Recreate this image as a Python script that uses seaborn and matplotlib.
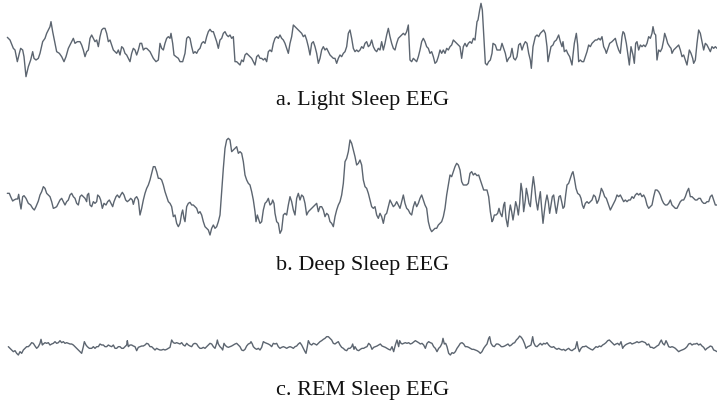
import matplotlib
matplotlib.use("Agg")
import matplotlib.pyplot as plt
import seaborn as sns

# EEG traces (time in samples, amplitude in uV,
# plotted negative-up as in clinical EEG)
light_sleep = [
    (22, 112), (30, 120), (40, 145), (45, 150), (52, 185), (58, 160), (62, 145), (68, 150), (72, 170), (78, 230),
    (85, 200), (92, 180), (98, 155), (102, 175), (108, 180), (115, 175), (120, 160), (128, 125), (135, 115), (140, 100),
    (145, 90), (150, 80), (153, 65), (158, 95), (165, 130), (170, 155), (178, 160), (185, 170), (192, 185), (198, 170),
    (205, 145), (210, 135), (215, 125), (220, 115), (225, 130), (232, 125), (240, 125), (245, 135), (250, 150), (255, 170),
    (260, 155), (265, 150), (270, 115), (275, 105), (280, 115), (285, 125), (290, 120), (295, 140), (300, 110), (305, 90),
    (310, 85), (315, 85), (320, 100), (325, 125), (330, 120), (335, 135), (340, 150), (345, 155), (350, 160), (355, 150),
    (360, 165), (365, 140), (370, 145), (375, 160), (380, 165), (385, 175), (390, 185), (395, 160), (400, 145), (405, 150),
    (410, 165), (415, 150), (420, 130), (425, 130), (430, 150), (435, 145), (440, 145), (445, 150), (450, 155), (455, 165),
    (460, 175), (468, 185), (475, 180), (480, 130), (485, 145), (490, 150), (495, 130), (500, 115), (505, 110), (510, 115),
    (513, 100), (518, 130), (522, 165), (528, 170), (535, 175), (540, 185), (548, 185), (555, 160), (560, 115), (565, 110),
    (570, 115), (575, 140), (580, 160), (585, 155), (590, 160), (595, 150), (600, 145), (605, 130), (610, 125), (615, 130),
    (620, 110), (625, 95), (630, 88), (635, 95), (640, 95), (645, 110), (650, 125), (655, 145), (660, 120), (665, 115),
    (670, 100), (675, 95), (680, 105), (685, 110), (690, 105), (695, 115), (700, 110), (705, 185), (710, 185), (715, 190),
    (720, 195), (725, 180), (730, 185), (735, 165), (740, 160), (745, 165), (750, 170), (755, 175), (760, 185), (765, 195),
    (770, 170), (775, 165), (780, 175), (785, 175), (790, 180), (795, 175), (800, 185), (805, 155), (810, 150), (815, 155),
    (820, 130), (825, 115), (830, 110), (835, 115), (840, 105), (845, 115), (850, 120), (855, 130), (860, 145), (865, 160),
    (870, 130), (875, 110), (880, 75), (885, 80), (890, 85), (895, 90), (900, 95), (905, 100), (910, 110), (915, 105),
    (920, 120), (925, 140), (930, 165), (935, 130), (940, 125), (945, 140), (950, 160), (955, 190), (960, 175), (965, 150),
    (970, 140), (975, 150), (980, 145), (985, 155), (990, 165), (995, 170), (1000, 175), (1005, 175), (1010, 190), (1015, 175),
    (1020, 165), (1025, 170), (1030, 160), (1035, 155), (1040, 140), (1045, 100), (1050, 90), (1055, 115), (1060, 145), (1065, 155),
    (1070, 150), (1075, 155), (1080, 150), (1085, 140), (1090, 145), (1095, 130), (1100, 125), (1105, 140), (1110, 135), (1115, 120),
    (1120, 140), (1125, 150), (1130, 155), (1135, 145), (1140, 150), (1145, 125), (1150, 150), (1155, 130), (1160, 105), (1165, 85),
    (1170, 110), (1175, 130), (1180, 145), (1185, 150), (1190, 130), (1195, 115), (1200, 110), (1205, 105), (1210, 100), (1215, 105),
    (1220, 95), (1225, 75), (1230, 180), (1235, 185), (1240, 175), (1245, 180), (1250, 185), (1255, 170), (1260, 150), (1265, 125),
    (1270, 115), (1275, 125), (1280, 140), (1285, 145), (1290, 160), (1295, 155), (1300, 170), (1305, 190), (1310, 185), (1315, 170),
    (1320, 150), (1325, 160), (1330, 150), (1335, 160), (1340, 145), (1345, 150), (1350, 140), (1355, 135), (1360, 120), (1365, 125),
    (1370, 130), (1375, 135), (1380, 140), (1385, 175), (1390, 140), (1395, 130), (1400, 140), (1405, 130), (1410, 125), (1415, 130),
    (1420, 115), (1425, 120), (1431, 65), (1434, 60), (1439, 30), (1443, 10), (1447, 30), (1451, 100), (1456, 190), (1461, 195),
    (1466, 185), (1471, 180), (1476, 160), (1479, 130), (1486, 135), (1491, 150), (1496, 150), (1501, 150), (1506, 130), (1511, 145),
    (1516, 160), (1521, 185), (1526, 175), (1531, 170), (1536, 145), (1541, 175), (1546, 180), (1551, 170), (1556, 135), (1561, 130),
    (1566, 150), (1571, 135), (1576, 125), (1581, 130), (1586, 160), (1591, 180), (1594, 205), (1599, 140), (1606, 110), (1611, 105),
    (1616, 110), (1621, 100), (1626, 95), (1631, 90), (1636, 100), (1641, 140), (1644, 185), (1649, 160), (1653, 140), (1659, 135),
    (1663, 125), (1669, 120), (1676, 105), (1681, 125), (1686, 140), (1689, 125), (1693, 155), (1699, 150), (1703, 160), (1709, 170),
    (1716, 195), (1719, 165), (1723, 130), (1729, 100), (1733, 135), (1736, 185), (1741, 180), (1746, 185), (1751, 185), (1756, 170),
    (1761, 155), (1766, 135), (1771, 140), (1776, 130), (1781, 125), (1786, 120), (1791, 120), (1796, 115), (1801, 120), (1806, 110),
    (1811, 140), (1816, 150), (1819, 160), (1824, 145), (1829, 130), (1836, 125), (1841, 120), (1846, 115), (1851, 135), (1856, 150),
    (1861, 160), (1866, 110), (1869, 95), (1873, 100), (1879, 130), (1883, 160), (1888, 195), (1893, 140), (1899, 165), (1903, 190),
    (1907, 130), (1911, 125), (1916, 150), (1921, 135), (1926, 140), (1931, 135), (1936, 140), (1941, 130), (1946, 110), (1951, 115),
    (1956, 100), (1959, 80), (1963, 100), (1967, 105), (1971, 180), (1976, 150), (1981, 155), (1986, 145), (1991, 120), (1994, 100),
    (1999, 115), (2003, 130), (2009, 140), (2013, 145), (2016, 160), (2021, 150), (2026, 145), (2031, 140), (2036, 135), (2041, 150),
    (2046, 170), (2051, 165), (2056, 180), (2061, 195), (2064, 175), (2068, 150), (2073, 160), (2078, 175), (2081, 190), (2086, 180),
    (2091, 130), (2096, 90), (2101, 100), (2106, 125), (2111, 150), (2116, 130), (2121, 135), (2126, 145), (2131, 155), (2136, 140),
    (2141, 145), (2146, 140), (2151, 145),
]

deep_sleep = [
    (22, 205), (28, 205), (32, 215), (38, 228), (42, 225), (48, 222), (53, 222), (56, 208), (60, 235), (63, 252),
    (68, 215), (72, 212), (78, 220), (85, 235), (92, 240), (98, 250), (103, 255), (108, 245), (115, 228), (120, 210),
    (125, 200), (130, 185), (135, 190), (140, 205), (145, 210), (150, 215), (155, 230), (160, 250), (165, 248), (170, 245),
    (175, 235), (180, 225), (185, 220), (190, 230), (195, 240), (200, 230), (205, 225), (210, 210), (215, 205), (220, 215),
    (225, 220), (230, 235), (235, 240), (240, 215), (245, 210), (250, 215), (255, 220), (260, 230), (262, 210), (266, 205),
    (270, 240), (275, 245), (280, 230), (285, 235), (290, 230), (293, 210), (298, 215), (302, 225), (307, 250), (312, 235),
    (318, 240), (323, 230), (328, 225), (333, 235), (338, 245), (342, 230), (348, 215), (352, 210), (358, 218), (362, 210),
    (367, 202), (372, 210), (377, 225), (382, 230), (388, 225), (392, 220), (397, 225), (400, 238), (405, 220), (410, 215),
    (415, 225), (420, 270), (425, 250), (430, 225), (435, 205), (440, 190), (445, 180), (450, 165), (455, 145), (460, 125),
    (465, 125), (470, 140), (475, 160), (480, 160), (485, 165), (490, 180), (495, 200), (500, 215), (505, 230), (510, 235),
    (515, 245), (520, 275), (525, 270), (530, 295), (535, 305), (540, 295), (545, 265), (548, 255), (552, 280), (555, 290),
    (560, 245), (565, 235), (570, 232), (575, 240), (580, 240), (585, 245), (590, 250), (595, 265), (600, 260), (605, 270),
    (610, 290), (615, 305), (620, 310), (625, 315), (630, 330), (635, 310), (640, 300), (645, 310), (650, 305), (655, 290),
    (660, 270), (665, 200), (670, 130), (675, 70), (680, 45), (685, 40), (690, 45), (695, 80), (700, 75), (705, 70),
    (710, 65), (715, 85), (720, 80), (725, 85), (730, 110), (735, 150), (740, 165), (745, 175), (750, 180), (755, 200),
    (760, 225), (765, 260), (768, 290), (772, 270), (775, 280), (780, 295), (785, 290), (790, 255), (795, 235), (800, 230),
    (805, 220), (810, 240), (815, 235), (818, 225), (822, 235), (825, 265), (830, 290), (835, 295), (840, 325), (845, 315),
    (850, 270), (855, 265), (860, 270), (865, 240), (870, 215), (875, 230), (880, 255), (885, 270), (890, 220), (895, 205),
    (900, 225), (905, 210), (910, 215), (915, 235), (920, 270), (925, 260), (930, 255), (935, 250), (940, 245), (945, 240),
    (950, 235), (955, 260), (960, 245), (965, 245), (970, 255), (975, 275), (980, 265), (985, 270), (990, 290), (995, 295),
    (1000, 305), (1005, 275), (1010, 255), (1015, 240), (1020, 230), (1025, 210), (1030, 175), (1035, 110), (1040, 100), (1045, 80),
    (1050, 45), (1055, 55), (1060, 75), (1065, 95), (1070, 120), (1075, 115), (1080, 105), (1085, 120), (1090, 165), (1095, 185),
    (1100, 190), (1105, 205), (1110, 225), (1115, 245), (1120, 250), (1125, 245), (1130, 270), (1135, 280), (1140, 265), (1145, 275),
    (1150, 295), (1155, 270), (1160, 265), (1165, 245), (1170, 225), (1175, 235), (1180, 245), (1185, 240), (1190, 230), (1195, 240),
    (1200, 250), (1205, 230), (1210, 210), (1215, 235), (1220, 250), (1225, 255), (1230, 265), (1235, 270), (1240, 245), (1245, 230),
    (1250, 245), (1255, 235), (1260, 220), (1265, 210), (1270, 225), (1275, 240), (1280, 250), (1285, 290), (1290, 310), (1295, 320),
    (1300, 315), (1305, 310), (1310, 310), (1315, 300), (1320, 295), (1325, 290), (1330, 275), (1335, 250), (1340, 210), (1345, 180),
    (1350, 150), (1355, 155), (1360, 140), (1365, 125), (1370, 115), (1375, 120), (1380, 135), (1385, 170), (1390, 180), (1395, 180),
    (1400, 180), (1405, 175), (1410, 145), (1415, 140), (1420, 150), (1425, 145), (1431, 152), (1436, 150), (1441, 165), (1446, 180),
    (1451, 195), (1456, 195), (1461, 195), (1466, 215), (1471, 260), (1476, 290), (1479, 285), (1483, 270), (1488, 270), (1493, 265),
    (1497, 250), (1501, 265), (1506, 275), (1511, 240), (1514, 232), (1518, 280), (1523, 305), (1528, 260), (1531, 240), (1535, 260),
    (1539, 285), (1543, 260), (1547, 230), (1551, 245), (1555, 270), (1559, 235), (1563, 175), (1567, 200), (1571, 260), (1576, 225),
    (1579, 190), (1583, 210), (1587, 235), (1591, 245), (1596, 190), (1600, 155), (1604, 185), (1608, 225), (1613, 255), (1617, 225),
    (1621, 200), (1625, 250), (1629, 295), (1633, 260), (1637, 230), (1641, 210), (1645, 230), (1649, 265), (1653, 240), (1657, 215),
    (1661, 210), (1665, 240), (1669, 265), (1673, 240), (1677, 215), (1681, 212), (1685, 230), (1689, 250), (1693, 245), (1697, 210),
    (1701, 180), (1706, 175), (1711, 160), (1716, 145), (1719, 140), (1723, 160), (1728, 190), (1733, 205), (1739, 210), (1743, 220),
    (1747, 240), (1751, 250), (1756, 235), (1761, 230), (1766, 235), (1771, 230), (1776, 225), (1781, 210), (1786, 215), (1791, 235),
    (1796, 225), (1801, 205), (1804, 190), (1809, 200), (1814, 215), (1819, 220), (1824, 235), (1831, 255), (1836, 245), (1841, 235),
    (1846, 225), (1851, 210), (1856, 215), (1861, 210), (1866, 220), (1871, 230), (1876, 225), (1881, 230), (1886, 225), (1891, 225),
    (1896, 215), (1901, 220), (1906, 210), (1911, 205), (1916, 210), (1921, 205), (1926, 215), (1931, 210), (1936, 220), (1941, 240),
    (1946, 250), (1951, 245), (1956, 240), (1961, 215), (1966, 195), (1971, 195), (1976, 200), (1981, 210), (1986, 225), (1991, 235),
    (1996, 240), (2001, 240), (2006, 235), (2011, 225), (2016, 240), (2021, 245), (2026, 250), (2031, 250), (2036, 240), (2041, 230),
    (2046, 225), (2051, 225), (2056, 215), (2061, 200), (2066, 190), (2071, 215), (2076, 215), (2081, 220), (2086, 225), (2091, 225),
    (2096, 220), (2101, 220), (2106, 230), (2111, 235), (2116, 235), (2121, 230), (2126, 230), (2131, 215), (2136, 210), (2141, 225),
    (2146, 240), (2151, 240),
]

rem_sleep = [
    (25, 80), (30, 85), (35, 90), (40, 95), (45, 92), (50, 100), (55, 105), (60, 95), (65, 100), (70, 90),
    (75, 85), (80, 80), (85, 80), (90, 75), (95, 68), (100, 70), (105, 78), (110, 85), (115, 80), (120, 70),
    (123, 58), (127, 75), (130, 72), (135, 68), (140, 70), (145, 68), (150, 75), (155, 72), (160, 70), (165, 65),
    (170, 70), (175, 68), (180, 62), (185, 68), (190, 65), (195, 70), (200, 68), (205, 70), (210, 72), (215, 72),
    (220, 75), (225, 80), (230, 85), (235, 90), (240, 95), (245, 100), (250, 80), (253, 65), (258, 75), (262, 80),
    (268, 85), (275, 85), (280, 80), (285, 85), (290, 80), (295, 80), (300, 72), (305, 75), (310, 75), (315, 80),
    (320, 80), (325, 75), (330, 78), (335, 80), (340, 75), (345, 85), (350, 85), (355, 80), (360, 80), (365, 85),
    (370, 85), (375, 80), (380, 75), (382, 62), (385, 80), (390, 75), (395, 75), (400, 78), (405, 80), (410, 92),
    (415, 82), (420, 80), (425, 78), (430, 78), (435, 75), (440, 70), (445, 72), (450, 80), (455, 80), (460, 85),
    (465, 90), (470, 85), (475, 88), (480, 90), (485, 90), (490, 88), (495, 90), (500, 88), (505, 85), (510, 82),
    (515, 60), (520, 68), (525, 70), (530, 68), (535, 70), (540, 72), (545, 68), (550, 75), (555, 78), (560, 70),
    (565, 75), (570, 78), (575, 80), (580, 72), (585, 70), (590, 72), (595, 80), (600, 85), (605, 85), (610, 82),
    (615, 85), (620, 80), (625, 75), (630, 70), (635, 72), (640, 80), (645, 85), (650, 70), (652, 60), (655, 72),
    (660, 80), (665, 85), (668, 90), (672, 70), (675, 75), (680, 80), (685, 82), (690, 80), (695, 78), (700, 75),
    (705, 72), (710, 70), (715, 75), (720, 80), (725, 90), (730, 92), (735, 88), (740, 78), (745, 72), (750, 70),
    (753, 65), (757, 72), (760, 80), (765, 85), (770, 88), (775, 85), (780, 90), (785, 82), (790, 65), (795, 68),
    (800, 70), (805, 72), (810, 75), (815, 80), (820, 70), (825, 72), (830, 70), (835, 80), (840, 85), (845, 82),
    (850, 80), (855, 82), (860, 85), (865, 82), (870, 80), (875, 82), (880, 85), (885, 80), (890, 78), (895, 72),
    (900, 68), (905, 75), (910, 85), (915, 95), (918, 100), (922, 80), (925, 62), (930, 72), (935, 75), (940, 70),
    (945, 72), (950, 75), (955, 70), (960, 65), (965, 62), (970, 58), (975, 55), (980, 50), (985, 50), (990, 55),
    (995, 60), (1000, 70), (1005, 72), (1010, 68), (1015, 65), (1020, 75), (1025, 82), (1030, 85), (1035, 90), (1040, 92),
    (1045, 85), (1050, 85), (1055, 80), (1058, 72), (1062, 88), (1065, 80), (1071, 90), (1076, 92), (1081, 88), (1086, 85),
    (1091, 85), (1096, 82), (1101, 80), (1106, 70), (1111, 75), (1116, 88), (1121, 82), (1126, 80), (1131, 78), (1136, 75),
    (1141, 72), (1146, 78), (1151, 80), (1156, 82), (1161, 85), (1166, 88), (1171, 90), (1176, 80), (1181, 95), (1186, 75),
    (1191, 60), (1196, 80), (1199, 62), (1203, 70), (1207, 72), (1211, 70), (1216, 68), (1221, 70), (1226, 68), (1231, 72),
    (1236, 70), (1241, 66), (1246, 62), (1251, 65), (1256, 68), (1261, 72), (1266, 70), (1271, 75), (1276, 85), (1281, 70),
    (1286, 65), (1291, 68), (1296, 70), (1301, 80), (1306, 85), (1311, 95), (1316, 85), (1321, 80), (1326, 70), (1329, 55),
    (1333, 72), (1337, 70), (1341, 80), (1346, 100), (1351, 105), (1356, 98), (1361, 100), (1366, 95), (1371, 85), (1376, 78),
    (1381, 70), (1386, 68), (1391, 72), (1396, 80), (1401, 80), (1406, 82), (1411, 85), (1416, 88), (1421, 88), (1426, 90),
    (1431, 92), (1436, 95), (1441, 100), (1446, 95), (1451, 85), (1456, 78), (1461, 72), (1466, 55), (1469, 50), (1473, 70),
    (1478, 78), (1483, 80), (1489, 72), (1494, 72), (1499, 75), (1504, 80), (1509, 80), (1514, 78), (1519, 75), (1524, 72),
    (1529, 78), (1534, 75), (1539, 70), (1544, 68), (1549, 60), (1554, 55), (1559, 48), (1564, 52), (1569, 60), (1574, 72),
    (1578, 85), (1583, 80), (1588, 78), (1593, 75), (1598, 50), (1601, 68), (1606, 78), (1611, 80), (1616, 75), (1621, 70),
    (1626, 75), (1631, 70), (1636, 72), (1641, 68), (1646, 75), (1651, 80), (1656, 82), (1661, 80), (1666, 85), (1671, 88),
    (1676, 85), (1681, 88), (1686, 90), (1691, 88), (1696, 92), (1701, 88), (1706, 85), (1711, 90), (1716, 92), (1721, 88),
    (1726, 85), (1731, 65), (1734, 82), (1738, 95), (1743, 85), (1748, 80), (1753, 80), (1758, 78), (1763, 82), (1768, 85),
    (1773, 88), (1778, 90), (1783, 85), (1788, 80), (1793, 82), (1798, 78), (1803, 80), (1808, 75), (1813, 72), (1818, 68),
    (1823, 62), (1828, 60), (1833, 65), (1838, 70), (1843, 75), (1848, 72), (1853, 70), (1858, 75), (1863, 65), (1868, 85),
    (1871, 80), (1876, 75), (1881, 72), (1886, 70), (1891, 68), (1896, 72), (1901, 70), (1906, 68), (1911, 65), (1916, 68),
    (1921, 66), (1926, 64), (1931, 66), (1936, 68), (1941, 75), (1946, 72), (1951, 82), (1956, 82), (1961, 85), (1966, 82),
    (1971, 78), (1976, 75), (1981, 65), (1984, 60), (1988, 70), (1993, 75), (1998, 62), (2002, 70), (2006, 80), (2011, 82),
    (2016, 80), (2021, 82), (2026, 85), (2031, 90), (2036, 95), (2041, 92), (2046, 90), (2051, 88), (2056, 85), (2061, 80),
    (2066, 72), (2071, 70), (2076, 75), (2081, 72), (2086, 72), (2091, 70), (2096, 75), (2101, 72), (2106, 78), (2111, 82),
    (2116, 90), (2121, 85), (2126, 82), (2131, 78), (2136, 80), (2141, 90), (2146, 92), (2151, 95),
]

labels = ["a. Light Sleep EEG", "b. Deep Sleep EEG", "c. REM Sleep EEG"]
traces = [light_sleep, deep_sleep, rem_sleep]

sns.set_style("white")
plt.rcParams["font.family"] = ["Liberation Serif", "DejaVu Serif"]

W, H = 717, 405
fig = plt.figure(figsize=(W / 100, H / 100), dpi=100)

# panel boxes in pixels: (top, height, amplitude span), label baseline
panels = [(0, 90, 270, 105), (125, 120, 360, 270), (320, 60, 180, 395)]

for trace, label, (top, h, span, base) in zip(traces, labels, panels):
    ax = fig.add_axes([0, 1 - (top + h) / H, 1, h / H])
    t = [p[0] for p in trace]
    v = [p[1] for p in trace]
    sns.lineplot(x=t, y=v, ax=ax, sort=False, estimator=None,
                 color="#5c6570", linewidth=1.0)
    ax.set_xlim(0, 2151)
    ax.set_ylim(span, 0)  # negative-up
    ax.axis("off")
    fig.text(363 / W, 1 - base / H, label, ha="center", va="baseline",
             fontsize=16, color="#111111")

fig.savefig("out.png", dpi=100)
